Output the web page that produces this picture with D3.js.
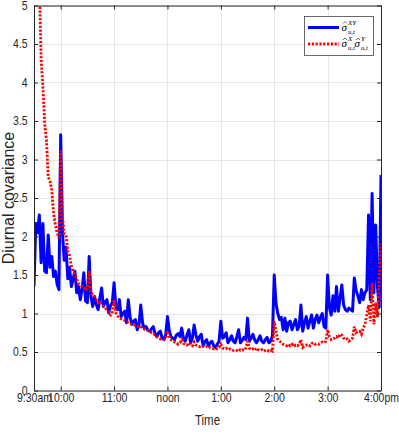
<!DOCTYPE html>
<html>
<head>
<meta charset="utf-8">
<script src="https://cdn.jsdelivr.net/npm/d3@7"></script>
<style>
  body { margin: 0; background: #fff; }
  svg { display: block; }
  .tick text { font-family: "Liberation Sans", Arial, sans-serif; }
</style>
</head>
<body>
<div id="app"></div>
<script>
// sampling times, minutes after 9:30am (every 2 minutes)
const minutes = d3.range(0, 391, 2);

// covariance estimate sigma^XY
const covXY = [
  1.35, 2.17, 2.05, 2.28, 1.66, 2.17, 1.55, 1.53, 2.02, 1.60,
  1.74, 1.48, 1.55, 1.38, 1.31, 3.32, 2.05, 1.69, 1.86, 1.45,
  1.60, 1.35, 1.45, 1.55, 1.27, 1.35, 1.18, 1.31, 1.53, 1.16,
  1.14, 1.74, 1.22, 1.09, 1.22, 1.12, 1.05, 1.20, 1.33, 1.09,
  1.15, 1.18, 1.01, 1.10, 1.14, 1.40, 1.09, 1.05, 1.18, 0.96,
  1.00, 1.03, 0.88, 1.18, 0.95, 0.86, 0.90, 0.92, 0.79, 0.85,
  1.11, 0.88, 0.80, 0.83, 0.78, 0.77, 0.80, 0.83, 0.74, 0.70,
  0.75, 0.77, 0.68, 0.66, 0.72, 0.96, 0.78, 0.70, 0.68, 0.66,
  0.72, 0.74, 0.70, 0.81, 0.68, 0.64, 0.72, 0.79, 0.62, 0.68,
  0.85, 0.72, 0.64, 0.70, 0.73, 0.58, 0.63, 0.66, 0.58, 0.62,
  0.64, 0.58, 0.56, 0.60, 0.64, 0.90, 0.68, 0.70, 0.75, 0.62,
  0.66, 0.71, 0.64, 0.62, 0.70, 0.79, 0.62, 0.65, 0.69, 0.66,
  0.94, 0.64, 0.68, 0.73, 0.66, 0.62, 0.66, 0.71, 0.64, 0.62,
  0.66, 0.69, 0.62, 0.64, 0.71, 1.50, 1.13, 1.00, 0.92, 0.95,
  0.79, 0.94, 0.77, 0.88, 0.90, 0.79, 0.86, 0.92, 0.79, 0.83,
  1.11, 0.77, 0.88, 0.96, 0.81, 0.90, 0.98, 0.81, 0.92, 0.98,
  0.88, 0.95, 1.00, 0.83, 0.81, 1.50, 1.08, 0.98, 1.23, 1.03,
  1.35, 1.03, 1.20, 1.37, 1.11, 1.05, 1.03, 1.07, 1.05, 1.03,
  1.46, 1.30, 1.23, 1.14, 1.31, 1.18, 1.27, 1.31, 2.28, 1.18,
  2.56, 1.27, 2.15, 1.35, 1.08, 2.80
];

// product of the volatilities sigma^X * sigma^Y
const volProd = [
  7.50, 6.80, 6.00, 5.30, 4.30, 3.95, 3.47, 3.25, 2.77, 2.72,
  2.60, 2.30, 2.15, 2.05, 1.98, 3.12, 2.25, 2.04, 2.02, 1.81,
  1.75, 1.62, 1.55, 1.50, 1.45, 1.39, 1.37, 1.35, 1.33, 1.30,
  1.32, 1.55, 1.27, 1.24, 1.22, 1.18, 1.14, 1.16, 1.12, 1.09,
  1.07, 1.05, 1.01, 0.98, 1.00, 1.18, 1.01, 0.97, 0.94, 0.93,
  0.92, 0.91, 0.89, 0.88, 0.87, 0.86, 0.86, 0.84, 0.83, 0.84,
  0.83, 0.81, 0.80, 0.79, 0.78, 0.77, 0.75, 0.74, 0.72, 0.70,
  0.68, 0.67, 0.66, 0.66, 0.68, 0.77, 0.70, 0.66, 0.64, 0.63,
  0.62, 0.60, 0.62, 0.66, 0.61, 0.60, 0.59, 0.62, 0.59, 0.58,
  0.63, 0.59, 0.58, 0.57, 0.58, 0.57, 0.56, 0.57, 0.55, 0.56,
  0.55, 0.54, 0.55, 0.54, 0.56, 0.60, 0.55, 0.54, 0.55, 0.53,
  0.54, 0.53, 0.52, 0.53, 0.52, 0.54, 0.52, 0.53, 0.52, 0.55,
  0.64, 0.55, 0.53, 0.54, 0.52, 0.55, 0.53, 0.52, 0.53, 0.51,
  0.52, 0.53, 0.51, 0.52, 0.51, 0.90, 0.77, 0.66, 0.64, 0.62,
  0.60, 0.59, 0.58, 0.60, 0.58, 0.60, 0.57, 0.59, 0.58, 0.60,
  0.66, 0.56, 0.58, 0.59, 0.60, 0.58, 0.61, 0.62, 0.60, 0.61,
  0.60, 0.62, 0.63, 0.62, 0.64, 0.79, 0.70, 0.66, 0.67, 0.68,
  0.70, 0.68, 0.73, 0.72, 0.68, 0.66, 0.67, 0.64, 0.66, 0.68,
  0.83, 0.75, 0.76, 0.77, 0.73, 0.81, 0.86, 0.98, 1.11, 0.90,
  1.40, 0.86, 1.14, 0.95, 1.48, 1.91
];

const xTickMinutes = [0, 30, 90, 150, 210, 270, 330, 390];
const xTickLabels = ["9:30am", "10:00", "11:00", "noon", "1:00", "2:00", "3:00", "4:00pm"];
const yTicks = [0, 0.5, 1, 1.5, 2, 2.5, 3, 3.5, 4, 4.5, 5];

const width = 399, height = 436;
const mLeft = 34, mRight = 381, mTop = 5.5, mBottom = 390.5;
const axisColor = "#262626";
const squeeze = 0.84; // 横に詰めたフォント

const svg = d3.select("#app").append("svg")
  .attr("width", width)
  .attr("height", height);

const x = d3.scaleLinear().domain([0, 390]).range([mLeft, mRight]);
const y = d3.scaleLinear().domain([0, 5]).range([mBottom, mTop]);

// グリッド線
const grid = svg.append("g").attr("stroke", "#e6e6e6").attr("stroke-width", 1);
grid.selectAll("line.gx").data(xTickMinutes).join("line")
  .attr("class", "gx")
  .attr("x1", d => Math.round(x(d)) + 0.5).attr("x2", d => Math.round(x(d)) + 0.5)
  .attr("y1", mTop).attr("y2", mBottom);
grid.selectAll("line.gy").data(yTicks).join("line")
  .attr("class", "gy")
  .attr("x1", mLeft).attr("x2", mRight)
  .attr("y1", d => Math.round(y(d)) + 0.5).attr("y2", d => Math.round(y(d)) + 0.5);

// 線のクリップ
svg.append("clipPath").attr("id", "plotClip")
  .append("rect")
  .attr("x", mLeft).attr("y", mTop)
  .attr("width", mRight - mLeft).attr("height", mBottom - mTop);

const line = d3.line()
  .x((d, i) => x(minutes[i]))
  .y(d => y(d));

const plot = svg.append("g").attr("clip-path", "url(#plotClip)");

plot.append("path")
  .datum(covXY)
  .attr("fill", "none")
  .attr("stroke", "#0000ff")
  .attr("stroke-width", 3)
  .attr("stroke-linejoin", "round")
  .attr("d", line);

plot.append("path")
  .datum(volProd)
  .attr("fill", "none")
  .attr("stroke", "#ff0000")
  .attr("stroke-width", 2.8)
  .attr("stroke-dasharray", "2.2,1.6")
  .attr("d", line);

// 軸
const fontSize = 12.5;
const xAxis = d3.axisBottom(x)
  .tickValues(xTickMinutes)
  .tickFormat((d, i) => xTickLabels[i])
  .tickSizeInner(-4)
  .tickSizeOuter(0)
  .tickPadding(2.5);

const yAxis = d3.axisLeft(y)
  .tickValues(yTicks)
  .tickFormat(d => String(d))
  .tickSizeInner(-4)
  .tickSizeOuter(0)
  .tickPadding(7.5);

const gx = svg.append("g")
  .attr("transform", `translate(0,${mBottom})`)
  .call(xAxis);
const gy = svg.append("g")
  .attr("transform", `translate(${mLeft},0)`)
  .call(yAxis);

// 上と右の軸（ラベルなし）
const gxTop = svg.append("g")
  .attr("transform", `translate(0,${mTop})`)
  .call(d3.axisTop(x).tickValues(xTickMinutes).tickFormat("").tickSizeInner(-4).tickSizeOuter(0));
const gyRight = svg.append("g")
  .attr("transform", `translate(${mRight},0)`)
  .call(d3.axisRight(y).tickValues(yTicks).tickFormat("").tickSizeInner(-4).tickSizeOuter(0));

[gx, gy, gxTop, gyRight].forEach(g => {
  g.select(".domain").attr("stroke", axisColor).attr("stroke-width", 1);
  g.selectAll(".tick line").attr("stroke", axisColor).attr("stroke-width", 1);
  g.selectAll(".tick text")
    .attr("fill", axisColor)
    .attr("transform", `scale(${squeeze},1)`)
    .style("font-size", fontSize + "px");
});
gy.selectAll(".tick text").attr("dy", "0.3em");

// 軸タイトル
svg.append("text")
  .attr("transform", `translate(${(mLeft + mRight) / 2},425) scale(0.82,1)`)
  .attr("text-anchor", "middle")
  .attr("fill", axisColor)
  .style("font-family", "'Liberation Sans', Arial, sans-serif")
  .style("font-size", "14px")
  .text("Time");

svg.append("text")
  .attr("transform", `translate(14,${(mTop + mBottom) / 2}) rotate(-90)`)
  .attr("text-anchor", "middle")
  .attr("fill", axisColor)
  .style("font-family", "'Liberation Sans', Arial, sans-serif")
  .style("font-size", "16px")
  .text("Diurnal covariance");

// 凡例
const legend = svg.append("g");
legend.append("rect")
  .attr("x", 304.5).attr("y", 16.5)
  .attr("width", 69).attr("height", 39)
  .attr("fill", "#fff")
  .attr("stroke", "#444")
  .attr("stroke-width", 0.8);
legend.append("line")
  .attr("x1", 308).attr("x2", 339).attr("y1", 27.5).attr("y2", 27.5)
  .attr("stroke", "#0000ff").attr("stroke-width", 3);
legend.append("line")
  .attr("x1", 308).attr("x2", 339).attr("y1", 44).attr("y2", 44)
  .attr("stroke", "#ff0000").attr("stroke-width", 2.8)
  .attr("stroke-dasharray", "2.2,1.6");

const serif = "'Liberation Serif', 'DejaVu Serif', serif";
function sigma(g, sx, base, sup) {
  g.append("text")
    .attr("x", sx).attr("y", base)
    .attr("fill", "#000")
    .style("font-family", serif)
    .style("font-style", "italic")
    .style("font-size", "11px")
    .text("σ");
  // ハット
  g.append("path")
    .attr("d", `M${sx + 1.5},${base - 7} L${sx + 3.5},${base - 9} L${sx + 5.5},${base - 7}`)
    .attr("fill", "none")
    .attr("stroke", "#000")
    .attr("stroke-width", 0.6);
  g.append("text")
    .attr("x", sx + 6.5).attr("y", base - 6)
    .style("font-family", serif)
    .style("font-style", "italic")
    .style("font-size", "7px")
    .text(sup);
  g.append("text")
    .attr("x", sx + 6.5).attr("y", base + 3)
    .style("font-family", serif)
    .style("font-style", "italic")
    .style("font-size", "6.5px")
    .text("u,t");
}
sigma(legend, 341.5, 30.5, "XY");
sigma(legend, 341.5, 47, "X");
sigma(legend, 354.5, 47, "Y");
</script>
</body>
</html>
